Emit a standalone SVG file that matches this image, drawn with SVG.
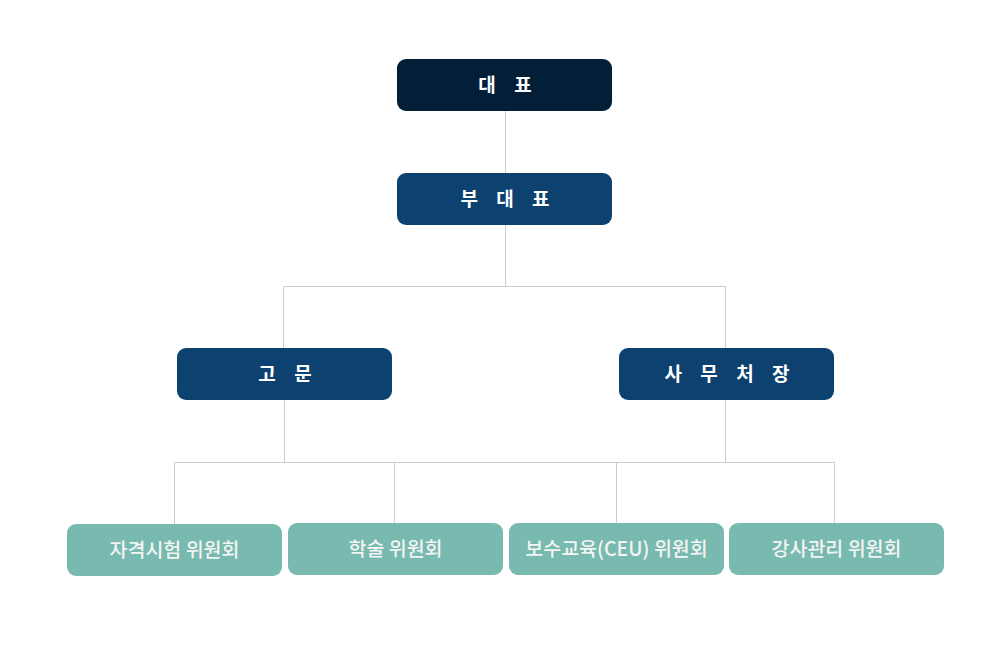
<svg xmlns="http://www.w3.org/2000/svg" width="1005" height="656" viewBox="0 0 1005 656">
<style>
.bg{fill:#ffffff}
.top{fill:#031f38}
.mid{fill:#0d4270}
.sub{fill:#78baaf}
.lbl{font-family:"Noto Sans CJK KR","Noto Sans",sans-serif;font-size:19px;font-weight:700;fill:#ffffff;text-anchor:middle;letter-spacing:7px}
.sl{font-family:"Noto Sans CJK KR","Noto Sans",sans-serif;font-size:19.5px;font-weight:500;fill:#f4f4f4;text-anchor:middle}
.ln{fill:none;stroke:#cccccc;stroke-width:1}
</style>
<rect class="bg" x="0" y="0" width="1005" height="656"/>
<g id="connectors">
<path class="ln" d="M505.5 111V173M505.5 225V286.5M283.5 286.5H725.5M283.5 286.5V348M725.5 286.5V348"/>
<path class="ln" d="M284.5 400V462.5M725.5 400V462.5M174.5 462.5H834.5M174.5 462.5V524M394.5 462.5V523M616.5 462.5V523M834.5 462.5V523"/>
</g>
<g id="n-ceo"><rect class="top" x="397" y="59" width="215" height="52" rx="9"/><text class="lbl" x="508.5" y="92">대 표</text></g>
<g id="n-vice"><rect class="mid" x="397" y="173" width="215" height="52" rx="9"/><text class="lbl" x="508.5" y="206">부 대 표</text></g>
<g id="n-advisor"><rect class="mid" x="177" y="348" width="215" height="52" rx="9"/><text class="lbl" x="288.5" y="381">고 문</text></g>
<g id="n-secretary"><rect class="mid" x="619" y="348" width="215" height="52" rx="9"/><text class="lbl" x="730.5" y="381">사 무 처 장</text></g>
<g id="n-exam"><rect class="sub" x="67" y="524" width="215" height="52" rx="9"/><text class="sl" x="174.5" y="557">자격시험 위원회</text></g>
<g id="n-academic"><rect class="sub" x="288" y="523" width="215" height="52" rx="9"/><text class="sl" x="395.5" y="556">학술 위원회</text></g>
<g id="n-ceu"><rect class="sub" x="509" y="523" width="215" height="52" rx="9"/><text class="sl" x="616.5" y="556">보수교육(CEU) 위원회</text></g>
<g id="n-instructor"><rect class="sub" x="729" y="523" width="215" height="52" rx="9"/><text class="sl" x="836.5" y="556">강사관리 위원회</text></g>
</svg>
